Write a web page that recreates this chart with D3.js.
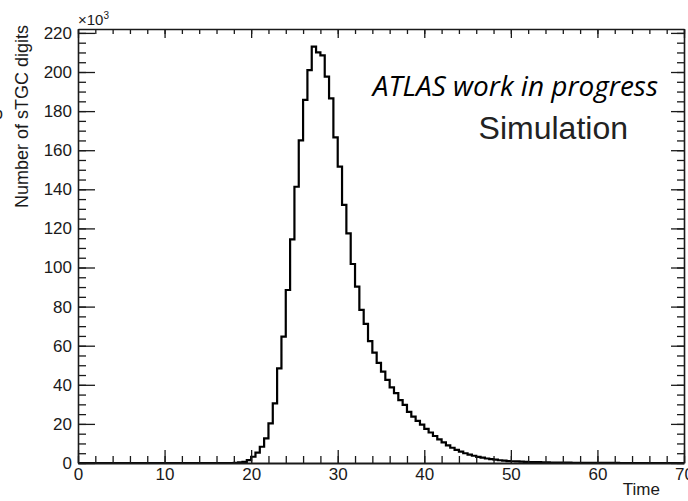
<!DOCTYPE html>
<html>
<head>
<meta charset="utf-8">
<script src="https://cdn.jsdelivr.net/npm/d3@7"></script>
<style>
  body { margin: 0; background: #fff; }
  svg { display: block; }
  .axis text { font-family: "Liberation Sans", Arial, sans-serif; font-size: 17px; fill: #1a1a1a; }
  .axis path, .axis line { stroke: #1a1a1a; }
</style>
</head>
<body>
<div id="chart"></div>
<script>
// histogram: 140 bins of width 0.5 from 0 to 70, counts in units of 10^3
const binStart = 0;
const binWidth = 0.5;
const counts = [
  0, 0, 0, 0, 0, 0, 0, 0, 0, 0, 0, 0, 0, 0, 0, 0, 0, 0, 0, 0,
  0, 0, 0, 0, 0, 0, 0, 0, 0, 0, 0, 0, 0, 0, 0, 0,
  0.1, 0.3, 0.6, 1.5, 3.2, 5.3, 8.3, 12.6, 20.3, 30.5,
  48.4, 64.6, 88.5, 114.4, 141.3, 165.0, 185.7, 201.0, 213.0, 210.0,
  208.5, 197.6, 186.5, 166.6, 151.6, 132.0, 117.5, 101.8, 90.2, 78.3,
  71.2, 62.3, 56.5, 51.2, 46.7, 42.5, 38.7, 35.7, 32.2, 29.7,
  26.2, 23.7, 21.5, 19.6, 17.5, 15.6, 13.8, 12.1, 10.5, 9.0,
  7.8, 6.7, 5.8, 5.0, 4.3, 3.7, 3.1, 2.7, 2.3, 2.0,
  1.7, 1.4, 1.2, 1.0, 0.9, 0.8, 0.7, 0.6, 0.5, 0.45,
  0.4, 0.35, 0.3, 0.25, 0.22, 0.2, 0.17, 0.15, 0.13, 0.11,
  0.1, 0.08, 0.07, 0.06, 0.05, 0.04, 0.03, 0.02, 0.02, 0.01,
  0, 0, 0, 0, 0, 0, 0, 0, 0, 0, 0, 0, 0, 0
];

const xDomain = [0, 70];
const yDomain = [0, 222];
const xMajorTicks = [0, 10, 20, 30, 40, 50, 60, 70];
const xMinorTicks = d3.range(0, 71, 2);
const yMajorTicks = [0, 20, 40, 60, 80, 100, 120, 140, 160, 180, 200, 220];
const yMinorTicks = d3.range(0, 222, 5);

const xTitle = "Time";
const yTitle = "Number of sTGC digits";
const exponentBase = "\u00d710";
const exponent = "3";
const atlasLabel = "ATLAS work in progress";
const simLabel = "Simulation";

const width = 688, height = 501;
const margin = { top: 29, right: 4, bottom: 38, left: 78 };
const innerW = width - margin.left - margin.right;
const innerH = height - margin.top - margin.bottom;

const svg = d3.select("#chart").append("svg")
  .attr("width", width)
  .attr("height", height);

const canvas = svg.append("g")
  .attr("transform", "translate(" + margin.left + "," + margin.top + ")");

const x = d3.scaleLinear().domain(xDomain).range([0, innerW]);
const y = d3.scaleLinear().domain(yDomain).range([innerH, 0]);

// histogram outline
const steps = counts.map((c, i) => ({ t: binStart + i * binWidth, v: c }));
steps.push({ t: binStart + counts.length * binWidth, v: counts[counts.length - 1] });

const line = d3.line()
  .x(d => x(d.t))
  .y(d => y(d.v))
  .curve(d3.curveStepAfter);

canvas.append("path")
  .datum(steps)
  .attr("fill", "none")
  .attr("stroke", "#000")
  .attr("stroke-width", 2.2)
  .attr("d", line);

// minor ticks
canvas.append("g").attr("class", "axis")
  .call(d3.axisLeft(y).tickValues(yMinorTicks).tickSize(-8).tickSizeOuter(0).tickFormat(""))
  .select(".domain").remove();
canvas.append("g").attr("class", "axis")
  .attr("transform", "translate(" + innerW + ",0)")
  .call(d3.axisRight(y).tickValues(yMinorTicks).tickSize(-7).tickSizeOuter(0).tickFormat(""))
  .select(".domain").remove();
canvas.append("g").attr("class", "axis")
  .attr("transform", "translate(0," + innerH + ")")
  .call(d3.axisBottom(x).tickValues(xMinorTicks).tickSize(-7).tickSizeOuter(0).tickFormat(""))
  .select(".domain").remove();
canvas.append("g").attr("class", "axis")
  .call(d3.axisTop(x).tickValues(xMinorTicks).tickSize(-5).tickSizeOuter(0).tickFormat(""))
  .select(".domain").remove();

// major ticks + frame
const yAxis = canvas.append("g").attr("class", "axis")
  .call(d3.axisLeft(y).tickValues(yMajorTicks).tickSize(-17).tickSizeOuter(0).tickPadding(6));
const yAxisR = canvas.append("g").attr("class", "axis")
  .attr("transform", "translate(" + innerW + ",0)")
  .call(d3.axisRight(y).tickValues(yMajorTicks).tickSize(-13).tickSizeOuter(0).tickFormat(""));
const xAxis = canvas.append("g").attr("class", "axis")
  .attr("transform", "translate(0," + innerH + ")")
  .call(d3.axisBottom(x).tickValues(xMajorTicks).tickSize(-13).tickSizeOuter(0).tickPadding(5));
const xAxisT = canvas.append("g").attr("class", "axis")
  .call(d3.axisTop(x).tickValues(xMajorTicks).tickSize(-9).tickSizeOuter(0).tickFormat(""));

canvas.selectAll(".axis line").attr("stroke-width", 1.3);
canvas.selectAll(".axis .domain").attr("stroke-width", 1.6);
xAxis.select(".domain").attr("stroke-width", 2.2);

// axis titles
svg.append("text")
  .attr("x", 660).attr("y", 495)
  .attr("text-anchor", "end")
  .style("font-family", "'Liberation Sans', Arial, sans-serif")
  .style("font-size", "17px")
  .attr("fill", "#1a1a1a")
  .text(xTitle);

svg.append("text")
  .attr("transform", "translate(28,25) rotate(-90)")
  .attr("text-anchor", "end")
  .style("font-family", "'Liberation Sans', Arial, sans-serif")
  .style("font-size", "18px")
  .attr("fill", "#1a1a1a")
  .text(yTitle);

// x10^3 multiplier
const mult = svg.append("text")
  .attr("x", 78).attr("y", 25)
  .style("font-family", "'Liberation Sans', Arial, sans-serif")
  .style("font-size", "15px")
  .attr("fill", "#1a1a1a");
mult.append("tspan").text(exponentBase);
mult.append("tspan").attr("dy", -6).style("font-size", "10px").text(exponent);

// cropped glyph at the left edge of the source image
svg.append("text")
  .attr("x", -6).attr("y", 119)
  .style("font-family", "'Liberation Sans', Arial, sans-serif")
  .style("font-size", "16px")
  .attr("fill", "#1a1a1a")
  .text("o");

// labels
svg.append("text")
  .attr("x", 658).attr("y", 96)
  .attr("text-anchor", "end")
  .style("font-family", "'Open Sans', sans-serif")
  .style("font-style", "italic")
  .style("font-size", "28px")
  .attr("fill", "#000")
  .text(atlasLabel);

svg.append("text")
  .attr("x", 628).attr("y", 139)
  .attr("text-anchor", "end")
  .style("font-family", "'Liberation Sans', Arial, sans-serif")
  .style("font-size", "32px")
  .attr("fill", "#222")
  .text(simLabel);
</script>
</body>
</html>
